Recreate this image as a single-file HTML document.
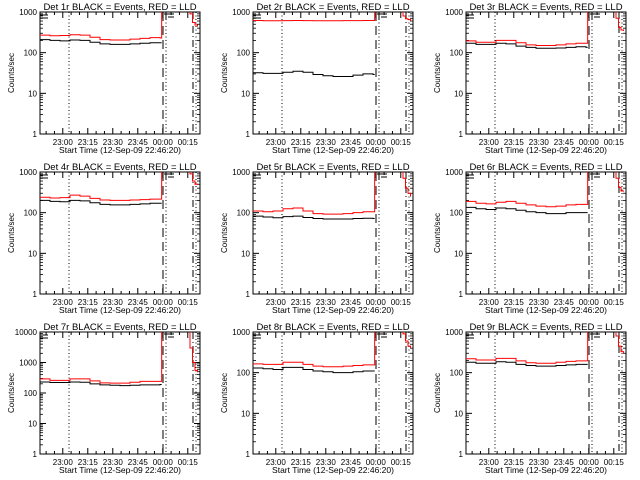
<!DOCTYPE html>
<html><head><meta charset="utf-8"><style>
body{margin:0;background:#fff}
svg{display:block;font-family:"Liberation Sans",sans-serif}
</style></head><body>
<svg id="c" width="640" height="480"></svg>
<script>
const NS="http://www.w3.org/2000/svg";
const times=[0,6,12,18,24,30,36,42,48,54,60,66,72];
const tailTimes=[88.5,90,91.5,93,94.5];
const detNames=["1r","2r","3r","4r","5r","6r","7r","8r","9r"];
const yMaxDec=[3,3,3,3,3,3,4,3,3];
const events1=[210,200,195,205,200,180,165,160,160,165,170,175,175];
const lld1=[270,260,265,275,270,240,210,205,205,215,225,235,230];
const tail1=[2000,900,550,480,440];
const events2=[32,31,31,33,35,33,29,27,26,26,28,30,29];
const lld2=[620,610,610,615,620,615,610,610,610,615,615,620,620];
const tail2=[2000,800,680,650,600];
const events3=[170,160,160,170,165,145,135,128,128,130,135,140,135];
const lld3=[195,180,180,200,200,175,155,150,150,155,165,170,170];
const tail3=[2000,700,420,360,340];
const events4=[200,190,185,200,195,175,160,155,155,160,165,170,170];
const lld4=[240,230,235,270,255,225,205,200,200,205,210,215,215];
const tail4=[2000,900,600,500,480];
const events5=[82,78,75,80,82,76,72,70,70,70,72,73,72];
const lld5=[110,105,110,125,130,110,95,92,92,95,100,105,105];
const tail5=[2000,700,400,300,250];
const events6=[135,125,120,130,125,115,105,100,95,95,100,100,100];
const lld6=[190,170,165,180,190,170,155,145,140,145,155,160,160];
const tail6=[2000,700,420,340,330];
const events7=[230,220,220,230,225,200,185,180,175,180,185,185,190];
const lld7=[290,260,260,290,290,250,215,210,210,225,240,240,240];
const tail7=[12000,3000,1000,550,480];
const events8=[130,125,120,135,135,120,110,105,100,100,105,110,110];
const lld8=[165,160,160,180,180,160,145,140,140,145,150,155,155];
const tail8=[2000,900,600,450,400];
const events9=[180,170,170,185,180,160,150,145,145,150,155,160,160];
const lld9=[220,205,205,225,225,195,175,170,170,180,190,195,195];
const tail9=[2000,800,450,330,300];
const eventsAll=[events1,events2,events3,events4,events5,events6,events7,events8,events9];
const lldAll=[lld1,lld2,lld3,lld4,lld5,lld6,lld7,lld8,lld9];
const tailAll=[tail1,tail2,tail3,tail4,tail5,tail6,tail7,tail8,tail9];
const xTickLabels=["23:00","23:15","23:30","23:45","00:00","00:15"];
const xTickMin=[13.67,28.67,43.67,58.67,73.67,88.67];
const yTickLabels=["1","10","100","1000","10000"];

const svg=document.getElementById('c');
function el(t,a,p){const e=document.createElementNS(NS,t);for(const k in a)e.setAttribute(k,a[k]);(p||svg).appendChild(e);return e;}

for(let i=0;i<9;i++){
  const ox=(i%3)*213, oy=Math.floor(i/3)*160;
  const L=ox+40,R=ox+200,T=oy+12,B=oy+134;
  const dec=yMaxDec[i];
  const xs=t=>L+t*(25/15);
  const ys=v=>B-(Math.log10(Math.max(v,1))/dec)*(B-T);
  const g=el('g',{});
  
  
  const tt=el('text',{x:(L+R)/2,y:oy+10,'text-anchor':'middle','font-size':'9.5'},g);
  tt.textContent='Det '+detNames[i]+' BLACK = Events, RED = LLD';
  
  
  const yt=el('text',{transform:`translate(${ox+14},${(T+B)/2}) rotate(-90)`,'text-anchor':'middle','font-size':'8'},g);
  yt.textContent='Counts/sec';
  
  
  const xt=el('text',{x:(L+R)/2,y:oy+153,'text-anchor':'middle','font-size':'8.5'},g);
  xt.textContent='Start Time (12-Sep-09 22:46:20)';
  
  
  const fr=el('rect',{x:L,y:T,width:R-L,height:B-T,fill:'none',stroke:'#000','stroke-width':1},g);
  
  
  for(let d=0;d<=dec;d++){
    const y=B-d/dec*(B-T);
    el('line',{x1:L,x2:L+6,y1:y,y2:y,stroke:'#000'},g);
    el('line',{x1:R,x2:R-6,y1:y,y2:y,stroke:'#000'},g);
    const lb=el('text',{x:L-3,y:y+3,'text-anchor':'end','font-size':'8'},g);
    lb.textContent=yTickLabels[d];
    
    
    if(d<dec)for(let m=2;m<10;m++){
      const ym=ys(Math.pow(10,d)*m);
      el('line',{x1:L,x2:L+3,y1:ym,y2:ym,stroke:'#000','stroke-width':0.8},g);
      el('line',{x1:R,x2:R-3,y1:ym,y2:ym,stroke:'#000','stroke-width':0.8},g);
    }
  }
  for(let k=0;k<xTickMin.length;k++){
    const x=xs(xTickMin[k]);
    el('line',{x1:x,x2:x,y1:B,y2:B-6,stroke:'#000'},g);
    el('line',{x1:x,x2:x,y1:T,y2:T+6,stroke:'#000'},g);
    for(let m=1;m<3;m++){const xm=xs(xTickMin[k]-m*5);if(xm>L){el('line',{x1:xm,x2:xm,y1:B,y2:B-3,stroke:'#000'},g);el('line',{x1:xm,x2:xm,y1:T,y2:T+3,stroke:'#000'},g);}}
    const lb=el('text',{x:x,y:oy+145,'text-anchor':'middle','font-size':'8'},g);
    lb.textContent=xTickLabels[k];
    
    
  }
  const vl=(x,da)=>el('line',{x1:x,x2:x,y1:T,y2:B,stroke:'#000','stroke-dasharray':da},g);
  vl(L+29,'1,2.5');vl(L+123,'9,5');vl(L+126,'1,2.5');vl(L+153,'7,3,1,3');vl(L+156,'1,2.5');
  el('path',{d:`M${L} ${T+3}h8M${L} ${T+6}h8M${L+124} ${T+2}h10M${L+128} ${T+5}h6M${L+126} ${T}v7`,stroke:'#000',fill:'none'},g);
  const clip='c'+i;
  const cp=el('clipPath',{id:clip},g);el('rect',{x:L,y:T,width:R-L,height:B-T},cp);
  const step=(arr,tArr)=>{let d='';arr.forEach((v,j)=>{const x=xs(tArr[j]),y=ys(v);d+=(j?`H${x}V${y}`:`M${x} ${y}`);});return d;};
  const ev=el('path',{d:step(eventsAll[i],times)+`H${xs(73)}`,stroke:'#000',fill:'none','stroke-width':1,'clip-path':`url(#${clip})`},g);
  
  
  const ld=el('path',{d:step(lldAll[i],times)+`H${xs(73)}V${T-5}`,stroke:'#f00',fill:'none','stroke-width':1,'clip-path':`url(#${clip})`},g);
  
  
  const tl=el('path',{d:`M${xs(tailTimes[0])} ${T-5}`+step(tailAll[i],tailTimes).replace(/^M/,'L'),stroke:'#f00',fill:'none','stroke-width':1,'clip-path':`url(#${clip})`},g);
  
  
}
</script>
</body></html>
